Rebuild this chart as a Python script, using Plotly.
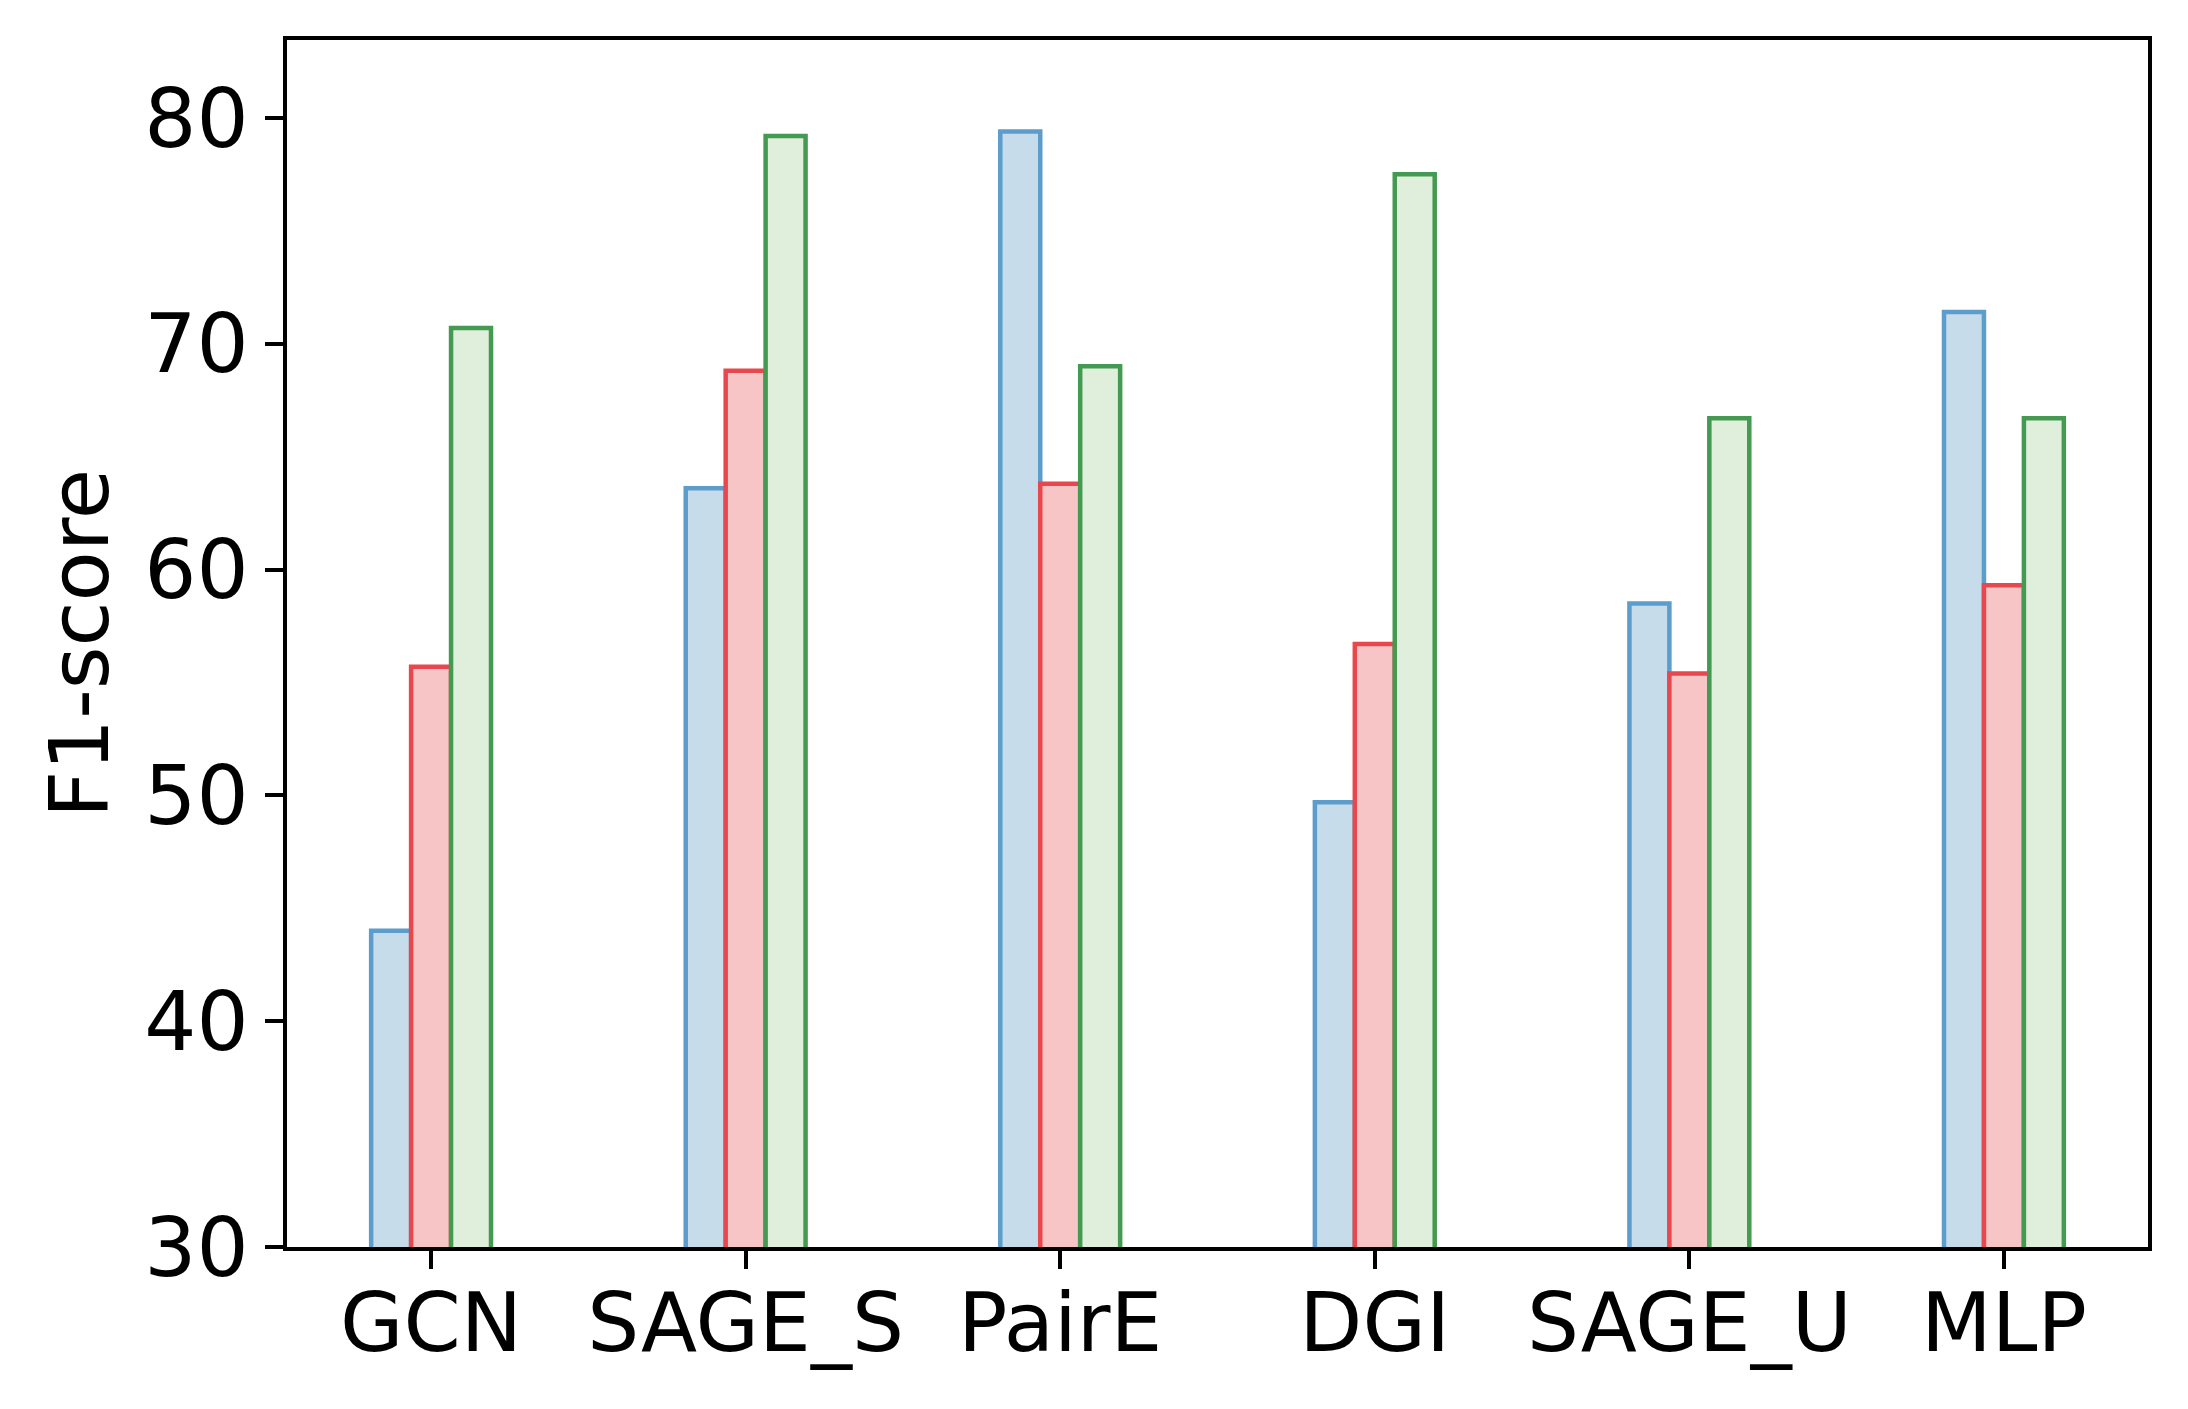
import plotly.graph_objects as go

# models on the x axis
models = ["GCN", "SAGE_S", "PairE", "DGI", "SAGE_U", "MLP"]

# F1-scores, one list per series
series_a = [44.0, 63.6, 79.4, 49.7, 58.5, 71.4]
series_b = [55.7, 68.8, 63.8, 56.7, 55.4, 59.3]
series_c = [70.7, 79.2, 69.0, 77.5, 66.7, 66.7]

y_ticks = [30, 40, 50, 60, 70, 80]

FONT = "DejaVu Sans"
BAR_W = 0.127

styles = [
    (series_a, "#c6dcea", "#5c9dcb"),
    (series_b, "#f7c5c6", "#e8474d"),
    (series_c, "#dfefdc", "#449a50"),
]

fig = go.Figure()
for i, (vals, fill, edge) in enumerate(styles):
    fig.add_trace(go.Bar(
        x=models,
        y=vals,
        width=BAR_W,
        offset=(i - 1.5) * BAR_W,
        marker=dict(color=fill, line=dict(color=edge, width=4.5)),
        showlegend=False,
    ))

# page body has an 8px default margin, so the margins are shifted to match
fig.update_layout(
    width=2188,
    height=1409,
    barmode="overlay",
    plot_bgcolor="white",
    paper_bgcolor="white",
    margin=dict(l=279, r=48, t=32, b=170),
    font=dict(family=FONT, size=82, color="black"),
)

fig.update_xaxes(
    range=[-0.458, 5.458],
    showline=True, linecolor="black", linewidth=4, mirror=True,
    ticks="outside", ticklen=18, tickwidth=4, tickcolor="black",
    showgrid=False, zeroline=False,
    tickfont=dict(family=FONT, size=82),
    ticklabelstandoff=-16,
)
fig.update_yaxes(
    range=[30, 83.45],
    tickvals=y_ticks,
    showline=True, linecolor="black", linewidth=4, mirror=True,
    ticks="outside", ticklen=18, tickwidth=4, tickcolor="black",
    showgrid=False, zeroline=False,
    tickfont=dict(family=FONT, size=82),
    title=dict(text="F1-score", font=dict(family=FONT, size=82), standoff=10),
)

fig.write_html("out.html")
